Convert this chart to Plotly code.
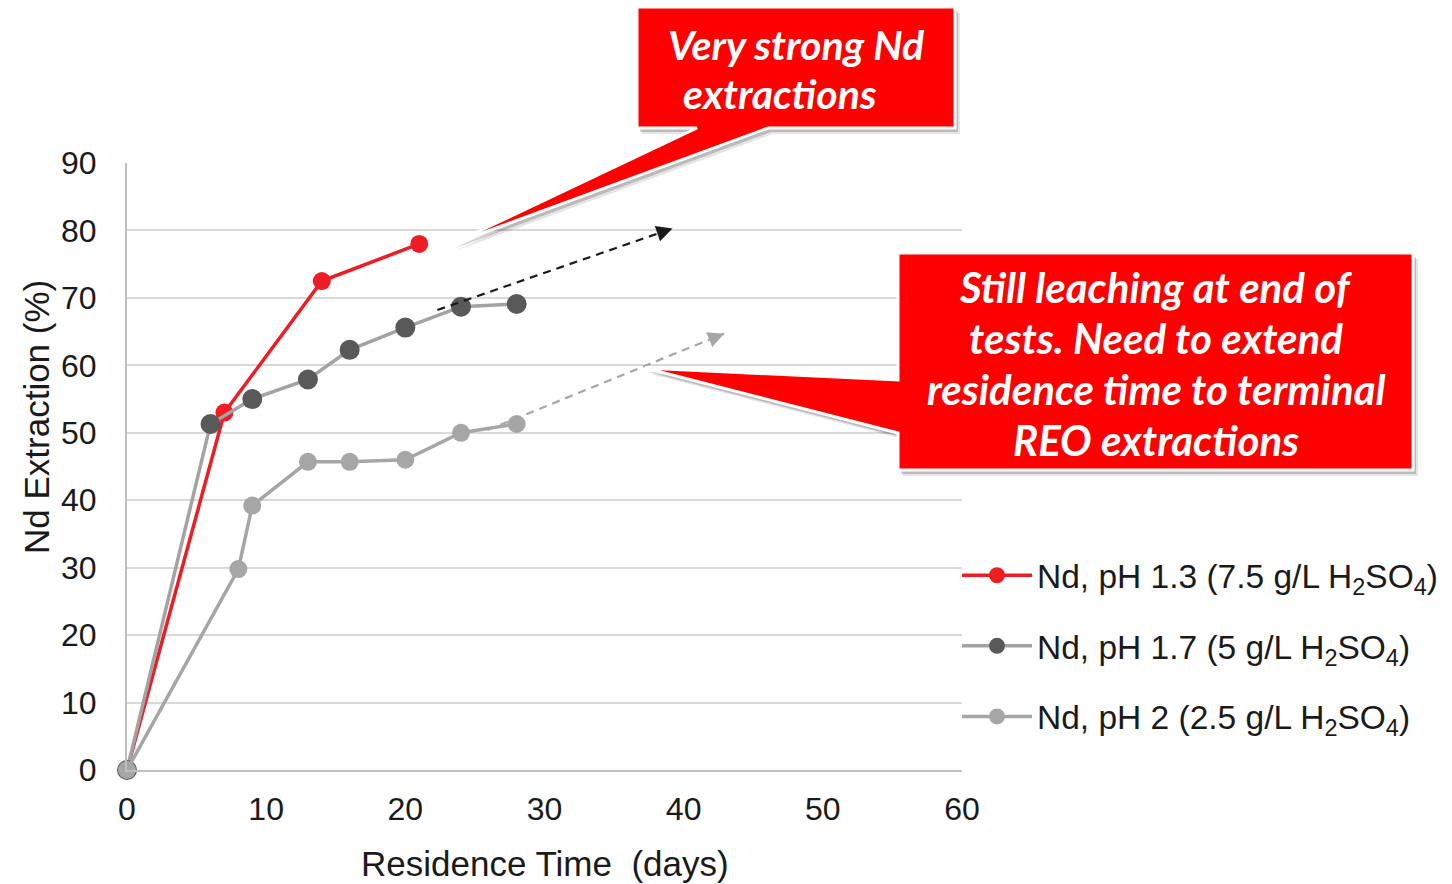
import plotly.graph_objects as go

# ---------------- data ----------------
days_ph13 = [0, 7, 14, 21]
nd_ph13 = [0, 53.0, 72.5, 78.0]

days_ph17 = [0, 6, 9, 13, 16, 20, 24, 28]
nd_ph17 = [0, 51.3, 55.0, 57.9, 62.3, 65.6, 68.7, 69.1]

days_ph2 = [0, 8, 9, 13, 16, 20, 24, 28]
nd_ph2 = [0, 29.8, 39.2, 45.7, 45.7, 46.0, 50.0, 51.3]

series_names = [
    "Nd, pH 1.3 (7.5 g/L H<sub>2</sub>SO<sub>4</sub>)",
    "Nd, pH 1.7 (5 g/L H<sub>2</sub>SO<sub>4</sub>)",
    "Nd, pH 2 (2.5 g/L H<sub>2</sub>SO<sub>4</sub>)",
]

# trend arrows (start, end) in data units
trend_dark_x = [22.3, 39.2]
trend_dark_y = [68.2, 80.3]
trend_light_x = [25.9, 42.9]
trend_light_y = [50.4, 64.7]

x_ticks = [0, 10, 20, 30, 40, 50, 60]
y_ticks = [0, 10, 20, 30, 40, 50, 60, 70, 80, 90]

callout1_lines = ["Very strong Nd", "extractions"]
callout2_lines = ["Still leaching at end of", "tests. Need to extend",
                  "residence time to terminal", "REO extractions"]

# ---------------- layout helpers (pixels -> paper) ----------------
W, H = 1452, 884
def PX(x):
    return x / W
def PY(y):
    return 1 - y / H

def path_from(points, dx=0, dy=0):
    return "M " + " L ".join(f"{PX(x+dx):.5f},{PY(y+dy):.5f}" for x, y in points) + " Z"

RED = "#EE1C25"
DARK = "#595959"
GREYLINE = "#A3A3A3"
LIGHT = "#A6A6A6"
AXFONT = "Arial, Liberation Sans, sans-serif"

fig = go.Figure()

fig.add_trace(go.Scatter(x=days_ph13, y=nd_ph13, mode="lines+markers", name=series_names[0],
                         legendgroup="a",
                         line=dict(color=RED, width=3.5),
                         marker=dict(color=RED, size=18), cliponaxis=False))
fig.add_trace(go.Scatter(x=days_ph17, y=nd_ph17, mode="lines+markers", name=series_names[1],
                         legendgroup="b",
                         line=dict(color=GREYLINE, width=3.5),
                         marker=dict(color=DARK, size=20), cliponaxis=False))
fig.add_trace(go.Scatter(x=days_ph2, y=nd_ph2, mode="lines+markers", name=series_names[2],
                         legendgroup="c",
                         line=dict(color=LIGHT, width=3.5),
                         marker=dict(color=LIGHT, size=18), cliponaxis=False))

# dashed trend lines (heads added as annotation arrows)
for tx, ty, col in ((trend_dark_x, trend_dark_y, "#1A1A1A"), (trend_light_x, trend_light_y, "#A6A6A6")):
    fig.add_trace(go.Scatter(x=tx, y=ty, mode="lines", showlegend=False,
                             line=dict(color=col, width=2.2, dash="8px,6px"),
                             cliponaxis=False, hoverinfo="skip"))

# ---------------- callouts ----------------
call1 = [(450, 245), (697, 128), (637, 128), (637, 7), (955, 7), (955, 128), (768, 128)]
call2 = [(645, 368), (898, 380), (898, 253), (1413, 253), (1413, 470), (898, 470), (898, 433)]

shapes = []
for pts in (call1, call2):
    shapes.append(dict(type="path", xref="paper", yref="paper", layer="above",
                       path=path_from(pts, 5, 6), fillcolor="rgba(0,0,0,0.10)", line=dict(width=0)))
    shapes.append(dict(type="path", xref="paper", yref="paper", layer="above",
                       path=path_from(pts, 3, 4), fillcolor="rgba(0,0,0,0.18)", line=dict(width=0)))
    shapes.append(dict(type="path", xref="paper", yref="paper", layer="above",
                       path=path_from(pts), fillcolor="#FF0000",
                       line=dict(color="white", width=3)))

annotations = []
CFONT = "Lato, Open Sans, sans-serif"
for txt, cx, cy in zip(callout1_lines, [796, 780], [44, 94]):
    annotations.append(dict(text=f"<b><i>{txt}</i></b>", x=PX(cx), y=PY(cy), xref="paper", yref="paper",
                            xanchor="center", yanchor="middle", showarrow=False,
                            font=dict(family=CFONT, size=41, color="white")))
for txt, cy in zip(callout2_lines, [287, 338, 389, 440]):
    annotations.append(dict(text=f"<b><i>{txt}</i></b>", x=PX(1156), y=PY(cy), xref="paper", yref="paper",
                            xanchor="center", yanchor="middle", showarrow=False,
                            font=dict(family=CFONT, size=42, color="white")))

# arrow heads at the ends of the dashed trend lines
for tx, ty, col in ((trend_dark_x, trend_dark_y, "#1A1A1A"), (trend_light_x, trend_light_y, "#A6A6A6")):
    fx = tx[1] - (tx[1] - tx[0]) * 0.06
    fy = ty[1] - (ty[1] - ty[0]) * 0.06
    annotations.append(dict(x=tx[1], y=ty[1], ax=fx, ay=fy, xref="x", yref="y", axref="x", ayref="y",
                            text="", showarrow=True, arrowhead=2, arrowsize=1.6, arrowwidth=2,
                            arrowcolor=col))

# axis titles
annotations.append(dict(text="Nd Extraction (%)", x=PX(36), y=PY(417), xref="paper", yref="paper",
                        textangle=-90, xanchor="center", yanchor="middle", showarrow=False,
                        font=dict(family=AXFONT, size=35, color="#1A1A1A")))
annotations.append(dict(text="Residence Time  (days)", x=PX(545), y=PY(863), xref="paper", yref="paper",
                        xanchor="center", yanchor="middle", showarrow=False,
                        font=dict(family=AXFONT, size=35, color="#1A1A1A")))

fig.update_layout(
    width=W, height=H, autosize=False,
    margin=dict(l=0, r=0, t=0, b=0, pad=0, autoexpand=False),
    paper_bgcolor="white", plot_bgcolor="white",
    showlegend=True,
    legend=dict(x=PX(957), y=PY(547), xanchor="left", yanchor="top",
                font=dict(family=AXFONT, size=33.5, color="#1A1A1A"),
                traceorder="grouped", tracegroupgap=24, itemwidth=70,
                bgcolor="rgba(0,0,0,0)"),
    shapes=shapes,
    annotations=annotations,
    xaxis=dict(domain=[PX(127), PX(962)], range=[0, 60], tickvals=x_ticks, automargin=False,
               showgrid=False, zeroline=False, showline=True, linecolor="#BFBFBF", linewidth=2,
               ticks="", ticklabelstandoff=10,
               tickfont=dict(family=AXFONT, size=32, color="#1A1A1A")),
    yaxis=dict(domain=[PY(770), PY(163)], range=[0, 90], tickvals=y_ticks, automargin=False,
               showgrid=True, gridcolor="#D9D9D9", gridwidth=2,
               zeroline=False, showline=True, linecolor="#BFBFBF", linewidth=2,
               ticks="", ticklabelstandoff=22,
               tickfont=dict(family=AXFONT, size=32, color="#1A1A1A")),
)

fig.write_html("out.html", config={"displayModeBar": False},
               post_script="document.body.style.margin='0';document.body.style.overflow='hidden';")
